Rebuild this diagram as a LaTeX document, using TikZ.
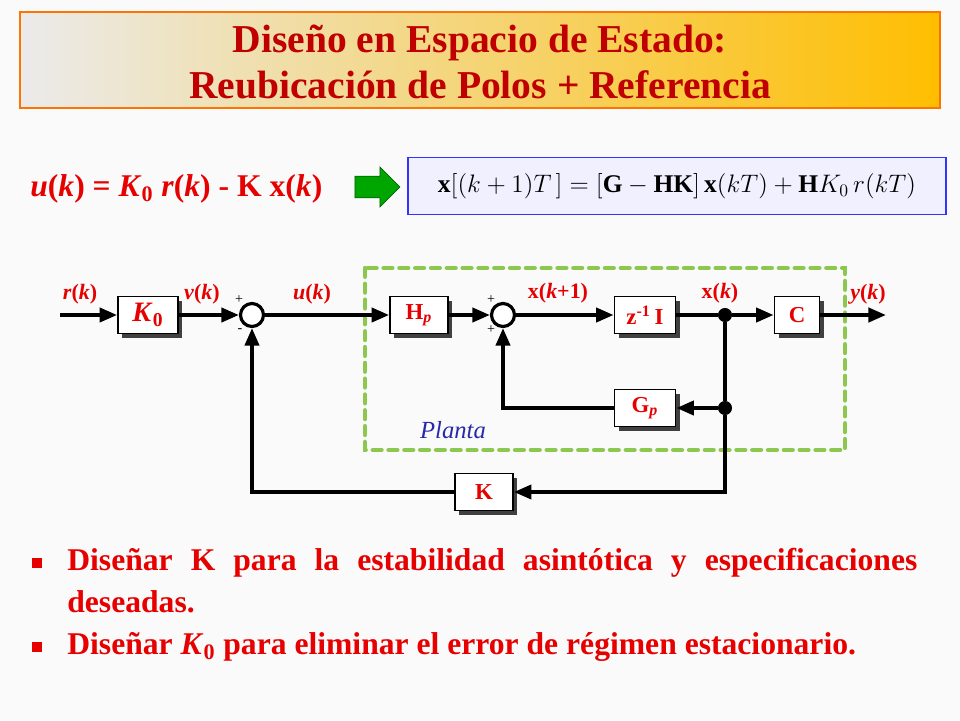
\documentclass[tikz,border=0pt]{standalone}
\usepackage{fontspec}
\setmainfont{Liberation Serif}
\usetikzlibrary{arrows.meta,shadows,shapes.arrows}
\definecolor{titred}{RGB}{192,0,0}
\definecolor{txtred}{RGB}{230,0,0}
\definecolor{dashgreen}{RGB}{140,200,80}
\definecolor{planblue}{RGB}{40,40,170}
\definecolor{titorange}{RGB}{255,190,0}
\tikzset{
  block/.style={draw, line width=1pt, fill=white, minimum height=0.74cm, font=\bfseries\color{txtred}\fontsize{13}{14}\selectfont,
    drop shadow={shadow xshift=2.5pt, shadow yshift=-2.5pt, fill=black!75, opacity=1}},
  sumnode/.style={draw, line width=1.8pt, circle, fill=white, minimum size=0.46cm, inner sep=0pt},
  sig/.style={line width=2.2pt, -{Triangle[length=10pt,width=8pt]}},
  wire/.style={line width=2.2pt},
  lbl/.style={font=\bfseries\color{txtred}\fontsize{12.5}{15}\selectfont},
  sgn/.style={font=\fontsize{8}{9}\selectfont},
  dot/.style={circle, fill=black, inner sep=0pt, minimum size=8pt},
  bullet/.style={anchor=west, font=\bfseries\color{txtred}\fontsize{18}{21}\selectfont}
}
\begin{document}
\begin{tikzpicture}[x=0.02cm, y=-0.02cm]
\useasboundingbox[fill=black!2] (0,0) rectangle (960,720);
% title
\shade[left color=black!8, right color=titorange] (20,12) rectangle (940,108);
\draw[orange!90!red, thick] (20,12) rectangle (940,108);
\node (title) [align=center, font=\bfseries\color{titred}\fontsize{22.5}{26.5}\selectfont] at (480,62)
  {Diseño en Espacio de Estado:\\Reubicación de Polos + Referencia};
% control law
\node (law) [anchor=west, inner sep=0pt, font=\bfseries\color{txtred}\fontsize{18}{21}\selectfont] at (30,189)
  {\textit{u}(\textit{k}) = \textit{K}\textsubscript{0} \textit{r}(\textit{k}) - K x(\textit{k})};
\node (garrow) [single arrow, draw=green!40!black, fill=green!65!black, minimum height=0.9cm,
  minimum width=0.8cm, single arrow head extend=3pt] at (372,187) {};
\node (eqbox) [draw=blue!80, thick, fill=blue!6, minimum width=10.76cm, minimum height=1.14cm] at (677,186) {};
\node (eq) at (677,186) {\fontsize{14.5}{18}\selectfont
  $\mathbf{x}\bigl[(k+1)T\,\bigr]=\Bigl[\mathbf{G}-\mathbf{HK}\Bigr]\,\mathbf{x}(kT)+\mathbf{H}K_0\,r(kT)$};
% plant boundary
\draw[dashgreen, line width=2.5pt, dash pattern=on 5pt off 4pt, line cap=round] (365,268) rectangle (845,450);
\node (planta) [font=\itshape\color{planblue}\fontsize{14}{16}\selectfont] at (453,430) {Planta};
% blocks
\coordinate (rin) at (60,315);
\node (k0) [block, minimum width=1.2cm] at (148,315) {\fontsize{16}{16}\selectfont\textit{K}\textsubscript{0}};
\node (sum1) [sumnode] at (252,315) {};
\node (hp) [block, minimum width=1.16cm] at (419,315) {H\textsubscript{\textit{p}}};
\node (sum2) [sumnode] at (503,315) {};
\node (zinv) [block, minimum width=1.22cm] at (645,315) {z\textsuperscript{-1}\,I};
\node (xk) [dot] at (725,315) {};
\node (cblk) [block, minimum width=0.9cm] at (797,315) {C};
\coordinate (yout) at (886,315);
\node (gp) [block, minimum width=1.22cm] at (645,408) {G\textsubscript{\textit{p}}};
\node (xk2) [dot] at (725,408) {};
\node (kblk) [block, minimum width=1.16cm] at (484,492) {K};
% connectors
\draw[sig] (rin) -- (k0);
\draw[sig] (k0) -- (sum1);
\draw[sig] (sum1) -- (hp);
\draw[sig] (hp) -- (sum2);
\draw[sig] (sum2) -- (zinv);
\draw[wire] (zinv) -- (xk);
\draw[sig] (xk) -- (cblk);
\draw[sig] (cblk) -- (yout);
\draw[wire] (xk) -- (xk2);
\draw[sig] (xk2) -- (gp);
\draw[sig] (gp) -| (sum2);
\draw[sig] (xk2) |- (kblk);
\draw[sig] (kblk) -| (sum1);
% labels
\node (lr) [lbl] at (80,294) {\textit{r}(\textit{k})};
\node (lv) [lbl] at (202,294) {\textit{v}(\textit{k})};
\node (lu) [lbl] at (312,294) {\textit{u}(\textit{k})};
\node (lx1) [lbl] at (558,293) {x(\textit{k}+1)};
\node (lx) [lbl] at (720,293) {x(\textit{k})};
\node (ly) [lbl] at (868,294) {\textit{y}(\textit{k})};
\node (s1a) [sgn] at (239,300) {+};
\node (s1b) [sgn] at (240,331) {-};
\node (s2a) [sgn] at (491,300) {+};
\node (s2b) [sgn] at (491,330) {+};
% bullets
\node (b1m) [fill=txtred, minimum size=6pt, inner sep=0pt] at (37,563) {};
\node (b1) [bullet, inner sep=0pt] at (67,563) {\makebox[850\dimexpr0.02cm\relax][s]{Diseñar K para la estabilidad asintótica y especificaciones}};
\node (b1c) [bullet, inner sep=0pt] at (67,602) {deseadas.};
\node (b2m) [fill=txtred, minimum size=6pt, inner sep=0pt] at (37,647) {};
\node (b2) [bullet, inner sep=0pt] at (67,647) {Diseñar \textit{K}\textsubscript{0} para eliminar el error de régimen estacionario.};
\end{tikzpicture}
\end{document}
